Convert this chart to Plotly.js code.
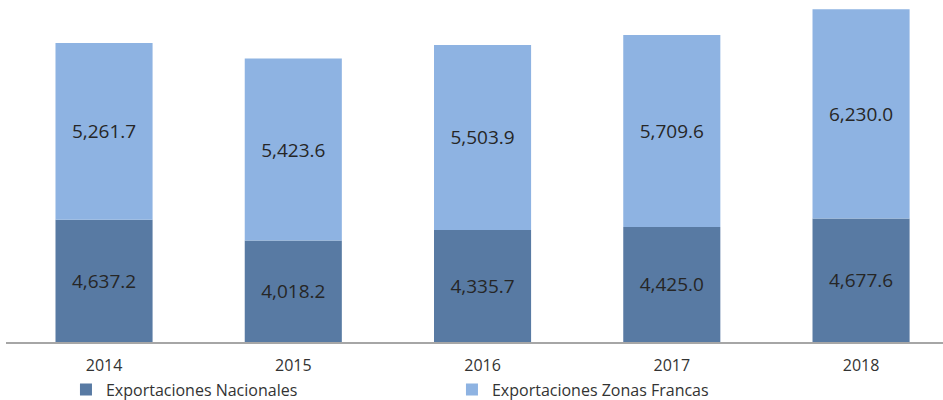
<!DOCTYPE html>
<html><head><meta charset="utf-8">
<script src="https://cdn.plot.ly/plotly-3.0.1.min.js"></script>
<style>html,body{margin:0;padding:0;background:#fff}#chart{width:943px;height:400px}</style>
</head><body><div id="chart"></div>
<script>
const years = ['2014','2015','2016','2017','2018'];
const nacionales = [4637.2, 4018.2, 4335.7, 4425.0, 4677.6];
const zonasFrancas = [5261.7, 5423.6, 5503.9, 5709.6, 6230.0];
const axisMin = 1000;
const fmt = v => v.toLocaleString('en-US',{minimumFractionDigits:1,maximumFractionDigits:1});

const common = {type:'bar', x:years, width:0.513, textposition:'inside', insidetextanchor:'middle',
  textfont:{family:'Open Sans', size:19, color:'#262626'}, hoverinfo:'skip'};
const traces = [
  Object.assign({}, common, {name:'Exportaciones Nacionales', base:axisMin,
    y:nacionales.map(v=>v-axisMin), text:nacionales.map(fmt), marker:{color:'#587AA3'}}),
  Object.assign({}, common, {name:'Exportaciones Zonas Francas', base:nacionales,
    y:zonasFrancas, text:zonasFrancas.map(fmt), marker:{color:'#8EB3E2'}})
];
const layout = {
  width:943, height:400, margin:{l:6,r:0,t:0,b:58},
  paper_bgcolor:'#fff', plot_bgcolor:'#fff', barmode:'overlay', showlegend:true,
  font:{family:'Open Sans', color:'#333'},
  xaxis:{type:'category', range:[-0.518,4.433], showline:true, linecolor:'#A6A6A6', linewidth:2,
    ticks:'outside', ticklen:8, tickcolor:'rgba(0,0,0,0)', tickfont:{size:16,color:'#333'}, fixedrange:true},
  yaxis:{range:[axisMin,11180], visible:false, showgrid:false, zeroline:false, fixedrange:true},
  legend:{orientation:'h', xref:'paper', x:0.064, yref:'container', y:0.026, xanchor:'left', yanchor:'middle',
    entrywidth:341, bgcolor:'rgba(0,0,0,0)', font:{size:16,color:'#333'}, itemwidth:30, traceorder:'normal'}
};
Plotly.newPlot('chart', traces, layout, {displayModeBar:false, staticPlot:true});
</script></body></html>
